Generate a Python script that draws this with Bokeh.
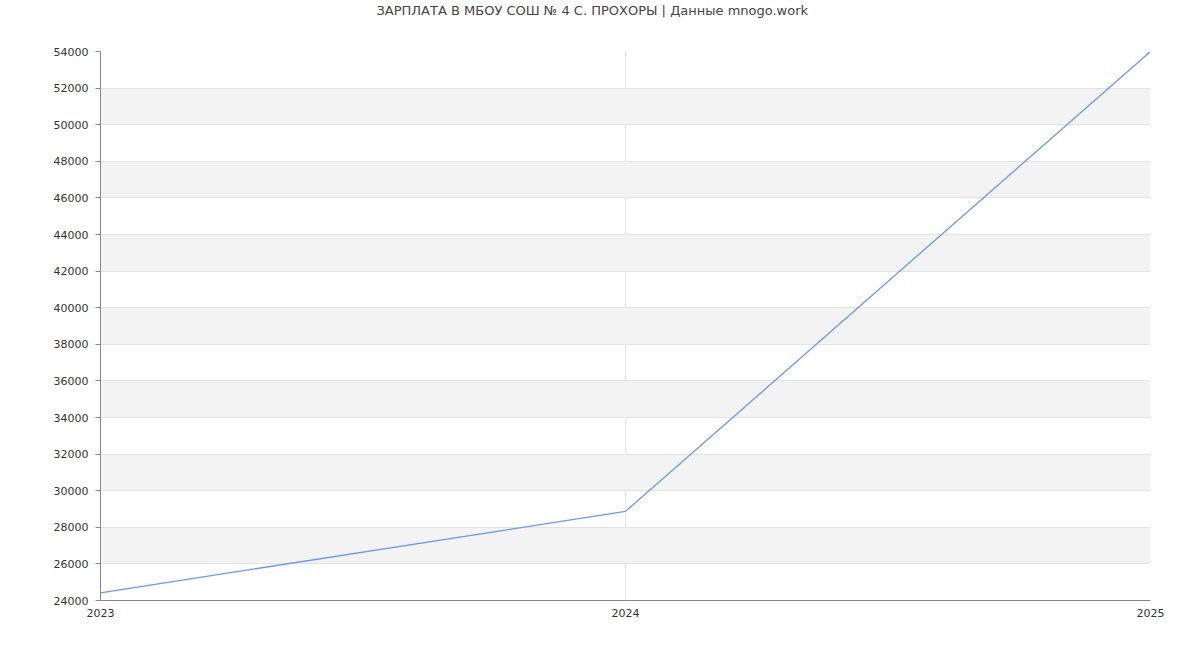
from bokeh.plotting import figure
from bokeh.models import FixedTicker, Range1d, Title
from bokeh.embed import file_html
from bokeh.resources import INLINE

years = [2023, 2024, 2025]
salary = [24420, 28870, 54000]
y_ticks = list(range(24000, 54001, 2000))
title_text = "ЗАРПЛАТА В МБОУ СОШ № 4 С. ПРОХОРЫ | Данные mnogo.work"

FONT = "DejaVu Sans"

p = figure(width=1190, height=645, output_backend="svg", toolbar_location=None,
           x_range=Range1d(years[0], years[-1]), y_range=Range1d(y_ticks[0], y_ticks[-1]),
           min_border_left=100, min_border_right=40, min_border_top=50, min_border_bottom=45)
p.outline_line_color = None
p.background_fill_color = "white"
p.border_fill_color = "white"

# real title (outer panel)
p.title.text = title_text
p.title.align = "left"
p.title.offset = 276
p.title.text_font = FONT
p.title.text_font_size = "13px"
p.title.text_font_style = "normal"
p.title.text_color = "#444444"
p.title.standoff = 0

# spacer panel between the title and the frame
spacer = Title(text=" ", text_font=FONT, text_font_size="13px", standoff=17)
p.add_layout(spacer, "above")

p.line(years, salary, line_color="#6d97f0", line_width=1.3)

p.yaxis.ticker = FixedTicker(ticks=y_ticks)
p.xaxis.ticker = FixedTicker(ticks=years)
for ax in (p.xaxis[0], p.yaxis[0]):
    ax.axis_line_color = "#888888"
    ax.major_label_text_font = FONT
    ax.major_label_text_font_size = "11px"
    ax.major_label_text_color = "#333333"
    ax.minor_tick_line_color = None
p.yaxis.major_tick_line_color = "#888888"
p.yaxis.major_tick_out = 5
p.yaxis.major_tick_in = 0
p.yaxis.major_label_standoff = 7
p.xaxis.major_tick_line_color = None
p.xaxis.major_tick_out = 0
p.xaxis.major_tick_in = 0
p.xaxis.major_label_standoff = 8

p.ygrid.ticker = FixedTicker(ticks=y_ticks)
p.ygrid.grid_line_color = "#e3e3e3"
p.ygrid.band_fill_color = "#f3f3f3"
p.ygrid.band_fill_alpha = 1.0
p.xgrid.ticker = FixedTicker(ticks=years)
p.xgrid.grid_line_color = "#e8e8e8"

open("out.html", "w").write(file_html(p, INLINE))
